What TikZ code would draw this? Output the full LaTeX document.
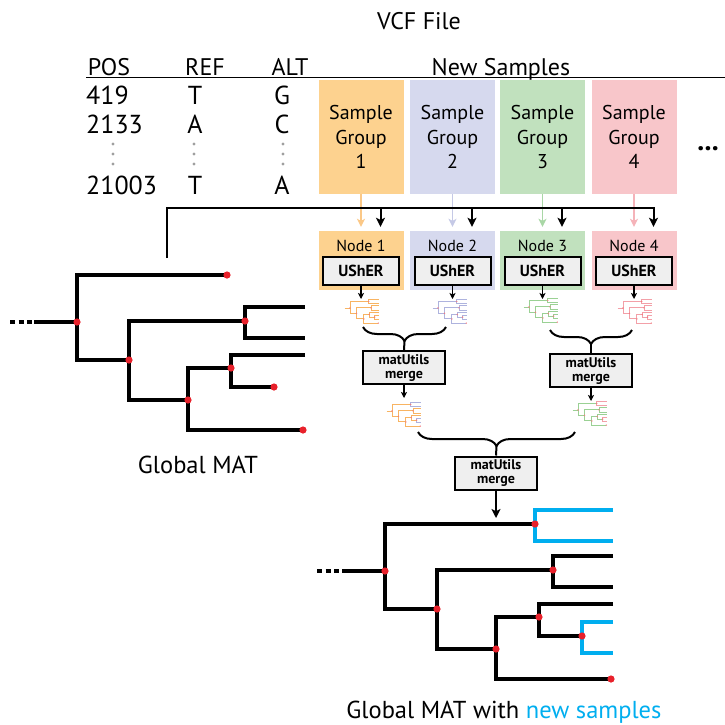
\documentclass[tikz,border=0pt]{standalone}
\usepackage{fontspec}
\setmainfont{PT Sans}
\usetikzlibrary{arrows.meta,decorations.pathreplacing}
\definecolor{gorange}{HTML}{FDD28F}
\definecolor{glav}{HTML}{D6D9EE}
\definecolor{ggreen}{HTML}{C1E1BE}
\definecolor{gpink}{HTML}{F8C6CA}
\definecolor{aorange}{HTML}{FBC887}
\definecolor{alav}{HTML}{C5C9E6}
\definecolor{agreen}{HTML}{A9D7A6}
\definecolor{apink}{HTML}{F5B3B9}
\definecolor{torange}{HTML}{F8B462}
\definecolor{tlav}{HTML}{AEB3DE}
\definecolor{tgreen}{HTML}{9AD194}
\definecolor{tpink}{HTML}{F3A0A8}
\definecolor{nodered}{HTML}{E8212B}
\definecolor{newblue}{HTML}{00AEEF}
\definecolor{boxgray}{HTML}{EFEFEF}
\newcommand{\treebase}{%
 \draw[tl] (-43,0) -- (0,0);
 \draw[tl] (150,-47) -- (0,-47) -- (0,38) -- (52,38);
 \draw[tl] (168,-1) -- (52,-1) -- (52,78) -- (111,78);
 \draw[tl] (228,-15) -- (168,-15) -- (168,16) -- (228,16);
 \draw[tl] (154,46) -- (111,46) -- (111,108) -- (226,108);
 \draw[tl] (228,33) -- (154,33) -- (154,65) -- (197,65);
}
\newcommand{\treenew}{%
 \draw[tn] (228,-61) -- (150,-61) -- (150,-30) -- (228,-30);
 \draw[tn] (228,51) -- (197,51) -- (197,82) -- (228,82);
}
\newcommand{\treedots}[1]{%
 \foreach \p in {(0,0),(52,38),(168,-1),(111,78),(154,46),(150,-47),(197,65),(226,108)} \fill[td] \p circle (#1);
}
\begin{document}
\begin{tikzpicture}[x=1pt,y=-1pt,
  samplebox/.style={fill=#1, minimum width=85pt, minimum height=114pt, inner sep=0pt, align=center, font=\fontsize{20}{24.5}\selectfont},
  nodebox/.style={fill=#1, minimum width=85pt, minimum height=59pt, inner sep=0pt},
  toolbox/.style={draw=black, line width=2pt, fill=boxgray, inner sep=0pt, font=\bfseries\fontsize{16}{18}\selectfont, minimum width=76pt, minimum height=28pt},
  mergebox/.style={draw=black, line width=2pt, fill=boxgray, inner sep=0pt, align=center, font=\bfseries\fontsize{14}{14}\selectfont, minimum width=82pt, minimum height=33pt},
  conn/.style={line width=2pt, draw=black},
  arr/.style={conn, -{Stealth[length=9pt,width=9pt,inset=2.2pt]}},
  smallarr/.style={line width=1.3pt, draw=black, -{Stealth[length=6pt,width=6pt,inset=1.5pt]}},
  carr/.style={line width=1.6pt, draw=#1, -{Stealth[length=8pt,width=8pt,inset=2pt]}},
  bracestyle/.style={line width=2pt, draw=black, decorate, decoration={brace, amplitude=14pt}},
  lbl/.style={anchor=base, inner sep=0pt}
]
\useasboundingbox (0,0) rectangle (725,724);

% ---------- VCF header ----------
\node[lbl, font=\fontsize{24}{28}\selectfont] (title) at (419,29) {VCF File};
\node[lbl, font=\fontsize{24}{28}\selectfont] (hpos) at (109,75) {POS};
\node[lbl, font=\fontsize{24}{28}\selectfont] (href) at (205,75) {REF};
\node[lbl, font=\fontsize{24}{28}\selectfont] (halt) at (290,75) {ALT};
\node[lbl, font=\fontsize{24}{28}\selectfont] (hnew) at (501,75) {New Samples};
\draw[line width=1.2pt] (86,77.5) -- (725,77.5);

\node[lbl, anchor=base west, font=\fontsize{26}{28}\selectfont] (r1) at (86,104) {419};
\node[lbl, anchor=base west, font=\fontsize{26}{28}\selectfont] (r2) at (86,133) {2133};
\node[lbl, anchor=base west, font=\fontsize{26}{28}\selectfont] (r3) at (86,194) {21003};
\node[lbl, font=\fontsize{26}{28}\selectfont] (f1) at (195,104) {T};
\node[lbl, font=\fontsize{26}{28}\selectfont] (f2) at (195,133) {A};
\node[lbl, font=\fontsize{26}{28}\selectfont] (f3) at (195,194) {T};
\node[lbl, font=\fontsize{26}{28}\selectfont] (a1) at (282,104) {G};
\node[lbl, font=\fontsize{26}{28}\selectfont] (a2) at (282,133) {C};
\node[lbl, font=\fontsize{26}{28}\selectfont] (a3) at (282,194) {A};
\foreach \x in {113,194,283} \foreach \y in {144,154,164} \fill[gray!75] (\x,\y) circle (1.6);

% ---------- sample groups and nodes ----------
\foreach \i/\cx/\c in {1/361/orange, 2/452.5/lav, 3/542.5/green, 4/634/pink} {
  \node[samplebox=g\c] (s\i) at (\cx,137) {Sample\\Group\\\i};
  \node[nodebox=g\c] (n\i) at (\cx,260.5) {};
  \node[lbl, font=\fontsize{16}{18}\selectfont] (nl\i) at (\cx,251) {Node \i};
  \node[toolbox] (u\i) at (\cx,271) {UShER};
  \draw[carr=a\c, shorten >=4pt] (s\i.south) -- (n\i.north);
  \coordinate (b\i) at (\cx+19.5,208);
  \coordinate (m\i) at (\cx,299);
  \draw[smallarr] (u\i.south) -- (m\i);
}
\node[lbl, font=\bfseries\fontsize{28}{30}\selectfont] (more) at (708,150) {...};

% bus from global tree
\coordinate (gtop) at (167,258);
\coordinate (busL) at (167,208);
\draw[arr, shorten >=4pt] (gtop) -- (busL) -- (b4) -- (b4 |- n4.north);
\foreach \i in {1,2,3} \draw[arr, shorten >=4pt] (b\i) -- (b\i |- n\i.north);

% ---------- mini trees ----------
\foreach \rx/\ry/\c in {350/308/torange, 438/308/tlav, 529/307/tgreen, 623/308/tpink} {
  \begin{scope}[shift={(\rx,\ry)}, xscale=0.125, yscale=0.14,
     tl/.style={line width=0.9pt, draw=\c}, tn/.style={line width=0.9pt, draw=\c}, td/.style={fill=nodered!60}]
    \treenew \treebase \treedots{6}
  \end{scope}
}
\begin{scope}[shift={(392,411)}, xscale=0.125, yscale=0.14,
   tl/.style={line width=0.9pt, draw=torange}, tn/.style={line width=0.9pt, draw=tlav}, td/.style={fill=nodered!60}]
  \treenew \treebase \treedots{6}
\end{scope}
\begin{scope}[shift={(578,410)}, xscale=0.125, yscale=0.14,
   tl/.style={line width=0.9pt, draw=tgreen}, tn/.style={line width=0.9pt, draw=tpink}, td/.style={fill=nodered!60}]
  \treenew \treebase \treedots{6}
\end{scope}

% ---------- merges ----------
\node[mergebox] (mg1) at (404,367.5) {matUtils\\merge};
\node[mergebox] (mg2) at (591,370.5) {matUtils\\merge};
\node[mergebox] (mg3) at (496,473) {matUtils\\merge};

\coordinate (br1L) at (363,327); \coordinate (br1R) at (446,327); \coordinate (br1T) at (404.5,341);
\coordinate (br2L) at (550,330); \coordinate (br2R) at (632,330); \coordinate (br2T) at (591,344);
\coordinate (br3L) at (418,432); \coordinate (br3R) at (575,432); \coordinate (br3T) at (496.5,446);
\draw[bracestyle] (br1R) -- (br1L);
\draw[bracestyle] (br2R) -- (br2L);
\draw[bracestyle] (br3R) -- (br3L);
\draw[conn] (br1T) -- (mg1.north);
\draw[conn] (br2T) -- (mg2.north);
\draw[conn] (br3T) -- (mg3.north);

\coordinate (mm1) at (404,398);
\coordinate (mm2) at (591,401);
\coordinate (btop) at (496,518);
\draw[smallarr] (mg1.south) -- (mm1);
\draw[smallarr] (mg2.south) -- (mm2);
\draw[arr] (mg3.south) -- (btop);

% ---------- global tree ----------
\begin{scope}[shift={(77,322)}, tl/.style={line width=4pt, draw=black}, tn/.style={line width=4pt, draw=newblue}, td/.style={fill=nodered}]
  \draw[tl, dash pattern=on 5pt off 3.5pt] (-67,0) -- (-45,0);
  \treebase
  \treedots{3.6}
\end{scope}
\node[lbl, font=\fontsize{24.5}{26}\selectfont] (gmat) at (198,473) {Global MAT};

% ---------- result tree ----------
\begin{scope}[shift={(385,571)}, tl/.style={line width=4pt, draw=black}, tn/.style={line width=4pt, draw=newblue}, td/.style={fill=nodered}]
  \draw[tl, dash pattern=on 5pt off 3.5pt] (-68,0) -- (-46,0);
  \treenew
  \treebase
  \treedots{3.6}
\end{scope}
\node[lbl, font=\fontsize{24.5}{26}\selectfont] (gmat2) at (504,718) {Global MAT with \textcolor{newblue}{new samples}};
\end{tikzpicture}
\end{document}
